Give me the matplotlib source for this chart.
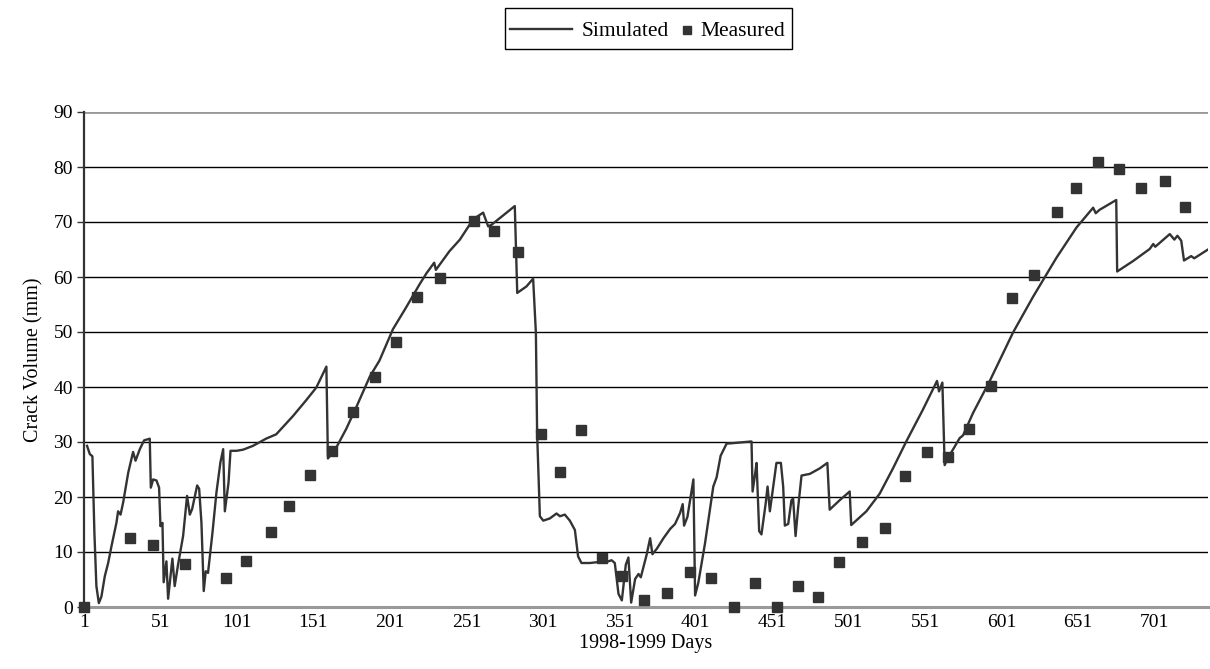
import matplotlib
matplotlib.use("Agg")
import matplotlib.pyplot as plt
from matplotlib.lines import Line2D
from matplotlib.patches import Rectangle

# simulated crack volume (day, mm)
sim_days = [3, 4.8, 6.5, 7.8, 9.1, 10.7, 12.4, 14.6, 16.8, 19, 22.2, 23.3, 24.9, 26.6,
            29.9, 33.1, 34.7, 37.5, 40.3, 44, 44.7, 46.2, 48.4, 50.1, 51, 52.3, 53.1,
            54.9, 56, 58.8, 60.3, 62.5, 65.8, 68.4, 70.2, 71.7, 75, 76.3, 77.8, 79.3,
            80.6, 82.1, 85, 87.6, 90.2, 92, 93.1, 95.5, 96.8, 100.7, 105, 111.5, 120,
            126.7, 132, 137.6, 146.3, 152.9, 159.5, 160.5, 162.7, 166, 172.5, 179,
            187.9, 194.2, 203, 211.7, 220.5, 225, 230, 231.1, 240, 246.8, 255.5, 262,
            265.3, 267.5, 282.7, 284.3, 290.4, 294.7, 296.5, 297.3, 299.1, 301.3,
            305.6, 310, 312.2, 315.4, 318.7, 322, 324.1, 326.3, 331.8, 338.3, 342.7,
            346, 348.1, 350.5, 352.7, 355.3, 357, 358.8, 361.4, 363.6, 365.1, 369,
            371.2, 372.7, 375.6, 379.9, 384.3, 387.5, 390.8, 392.5, 393.4, 395.6,
            397.3, 399.5, 400.6, 402.7, 407.1, 412.5, 414.7, 417.3, 421.2, 425.6,
            437.5, 438.2, 439.7, 440.8, 442.5, 444, 446.7, 448, 449.5, 451.7, 453.8,
            456.7, 458.2, 459.3, 461.5, 463.6, 464.7, 466.3, 468, 470.2, 475.6, 482.1,
            487.1, 488.6, 495.1, 501.7, 502.7, 512.6, 521.3, 530, 538.7, 549.6, 558.8,
            560.1, 562.3, 563.8, 566, 573.6, 575.8, 582.4, 593.3, 608.5, 621.6, 636.9,
            650, 660.9, 662.6, 665, 676, 676.6, 687, 697.9, 700.2, 701.5, 711, 714,
            716, 718.5, 720.3, 725, 727, 736]
sim_vals = [29.3, 27.8, 27.4, 13.5, 3.8, 0.7, 1.9, 5.6, 8.0, 11.1, 15.3, 17.4, 16.8, 19.0,
            24.4, 28.2, 26.6, 28.7, 30.3, 30.6, 21.7, 23.2, 23.0, 21.7, 14.7, 15.3, 4.5,
            8.3, 1.5, 8.8, 3.8, 7.7, 12.9, 20.2, 16.8, 17.8, 22.1, 21.5, 15.3, 2.9,
            6.5, 6.2, 13.5, 20.8, 26.3, 28.7, 17.4, 22.6, 28.4, 28.4, 28.6, 29.3, 30.6,
            31.4, 33.0, 34.7, 37.6, 39.9, 43.7, 27.0, 27.8, 29.0, 32.4, 36.3,
            41.9, 44.8, 50.5, 54.5, 58.7, 60.7, 62.6, 61.3, 64.7, 66.8, 70.5, 71.7,
            69.2, 69.5, 72.9, 57.1, 58.3, 59.7, 49.8, 31.6, 16.5, 15.7,
            16.1, 17.0, 16.5, 16.8, 15.7, 14.0, 9.2, 8.0, 8.0, 8.2, 8.2,
            8.5, 8.0, 2.4, 1.2, 7.7, 9.0, 0.8, 5.1, 6.0, 5.4, 9.6,
            12.5, 9.6, 10.6, 12.5, 14.2, 15.1, 17.1, 18.7, 14.8, 16.4,
            19.4, 23.2, 2.1, 4.4, 11.6, 21.9, 23.6, 27.5, 29.7, 29.8,
            30.1, 21.0, 23.9, 26.2, 13.8, 13.2, 18.7, 21.9, 17.4, 21.9, 26.2,
            26.2, 21.9, 14.8, 15.1, 19.4, 19.7, 12.9, 18.1, 23.9, 24.2, 25.2,
            26.2, 17.7, 19.4, 21.0, 14.9, 17.4, 20.6, 25.2, 30.1, 35.9, 41.1,
            39.2, 40.8, 25.8, 27.1, 30.7, 31.2, 35.3, 41.1, 49.9, 56.4, 63.5,
            69.0, 72.6, 71.6, 72.2, 74.0, 61.0, 62.9, 65.1, 66.0, 65.5, 67.8, 66.8,
            67.5, 66.6, 63.0, 63.8, 63.4, 65.0]

# field measurements
meas_days = [1, 31, 46, 67, 94, 107, 123, 135, 149, 163, 177, 191, 205, 219, 234, 256,
             269, 285, 300, 312, 326, 340, 353, 367, 382, 397, 411, 426, 440, 454,
             468, 481, 495, 510, 525, 538, 552, 566, 580, 594, 608, 622, 637, 650,
             664, 678, 692, 708, 721]
meas_vals = [0, 12.6, 11.2, 7.9, 5.3, 8.3, 13.7, 18.4, 24.0, 28.3, 35.5, 41.9, 48.2,
             56.3, 59.8, 70.2, 68.3, 64.5, 31.4, 24.5, 32.1, 8.9, 5.7, 1.3, 2.6, 6.4,
             5.3, 0, 4.3, 0, 3.9, 1.8, 8.1, 11.9, 14.4, 23.8, 28.1, 27.3, 32.4, 40.1,
             56.1, 60.3, 71.9, 76.2, 81.0, 79.7, 76.2, 77.5, 72.8]

x_ticks = [1, 51, 101, 151, 201, 251, 301, 351, 401, 451, 501, 551, 601, 651, 701]
y_ticks = [0, 10, 20, 30, 40, 50, 60, 70, 80, 90]

plt.rcParams['font.family'] = ['Liberation Serif', 'DejaVu Serif']

W, H = 1210, 669
fig = plt.figure(figsize=(W / 100, H / 100), dpi=100)
ax = fig.add_axes([84 / W, 1 - 607 / H, 1124 / W, 495 / H])

# horizontal grid, drawn by hand so the top one can be grey
for v in y_ticks[1:-1]:
    ax.axhline(v, color='black', lw=1.0, zorder=1)
ax.axhline(90, color='#999999', lw=2.0, zorder=1)

dark = '#333333'
ax.plot(sim_days, sim_vals, color=dark, lw=1.7, zorder=3)
ax.plot(meas_days, meas_vals, ls='none', marker='s', ms=6.5, color=dark,
        zorder=4, clip_on=False)

ax.set_xlim(1, 736)
ax.set_ylim(0, 90)
ax.set_xticks(x_ticks)
ax.set_yticks(y_ticks)

for side in ['top', 'right']:
    ax.spines[side].set_visible(False)
ax.spines['left'].set_color(dark)
ax.spines['left'].set_linewidth(1.6)
ax.spines['bottom'].set_color('#999999')
ax.spines['bottom'].set_linewidth(2.2)
ax.tick_params(axis='y', length=5, width=1, color=dark, labelsize=14, pad=3)
ax.tick_params(axis='x', length=0, labelsize=14, pad=5)

ax.set_xlabel('1998-1999 Days', fontsize=14.5, labelpad=2)
ax.set_ylabel('Crack Volume (mm)', fontsize=14.5, labelpad=7)

# legend box built by hand (line handle is long, square handle is tiny)
def fx(px):
    return px / W

def fy(py):
    return 1 - py / H

fig.patches.append(Rectangle((fx(505), fy(49)), fx(287), 41 / H, transform=fig.transFigure,
                             fill=False, edgecolor='black', lw=1.0))
fig.lines.append(Line2D([fx(510), fx(572)], [fy(29), fy(29)], transform=fig.transFigure,
                        color=dark, lw=1.7))
fig.lines.append(Line2D([fx(687)], [fy(29.5)], transform=fig.transFigure,
                        ls='none', marker='s', ms=5.5, color=dark))
fig.text(fx(582), fy(36), 'Simulated', fontsize=15.5, va='baseline', ha='left')
fig.text(fx(700), fy(36), 'Measured', fontsize=15.5, va='baseline', ha='left')

fig.savefig('out.png', dpi=100)
